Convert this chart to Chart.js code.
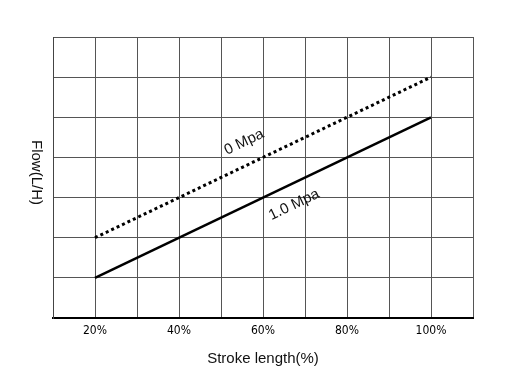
<!DOCTYPE html>
<html>
<head>
<meta charset="utf-8">
<script src="https://cdn.jsdelivr.net/npm/chart.js@4/dist/chart.umd.min.js"></script>
<style>
  html, body { margin: 0; padding: 0; background: #fff; }
  #wrap { width: 517px; height: 391px; }
</style>
</head>
<body>
<div id="wrap"><canvas id="myChart" width="517" height="391"></canvas></div>
<script>
var strokeLength = [20, 100];
var flow0Mpa = [2, 6];
var flow1Mpa = [1, 5];
var xTicks = [20, 40, 60, 80, 100];

function toPoints(xs, ys) {
  var pts = [];
  for (var i = 0; i < xs.length; i++) {
    pts.push({ x: xs[i], y: ys[i] });
  }
  return pts;
}

// line labels placed along each line
var lineLabels = [
  { text: "0 Mpa", x: 55.5, y: 4.38, ds: 0 },
  { text: "1.0 Mpa", x: 67.4, y: 2.82, ds: 1 }
];

var labelPlugin = {
  id: "labels",
  afterDatasetsDraw: function (chart) {
    var ctx = chart.ctx;
    var xs = chart.scales.x, ys = chart.scales.y;
    ctx.save();
    ctx.fillStyle = "#111";
    ctx.font = "15px 'Liberation Sans', Arial, sans-serif";
    ctx.textAlign = "center";
    ctx.textBaseline = "middle";
    lineLabels.forEach(function (l) {
      var d = chart.data.datasets[l.ds].data;
      var ang = Math.atan2(ys.getPixelForValue(d[1].y) - ys.getPixelForValue(d[0].y),
                           xs.getPixelForValue(d[1].x) - xs.getPixelForValue(d[0].x));
      ctx.save();
      ctx.translate(xs.getPixelForValue(l.x), ys.getPixelForValue(l.y));
      ctx.rotate(ang);
      ctx.fillText(l.text, 0, 0);
      ctx.restore();
    });
    // y axis title, reading top to bottom
    ctx.save();
    ctx.font = "15px 'Liberation Sans', Arial, sans-serif";
    ctx.translate(36, (chart.chartArea.top + chart.chartArea.bottom) / 2 - 5);
    ctx.rotate(Math.PI / 2);
    ctx.fillText("Flow(L/H)", 0, 0);
    ctx.restore();
    ctx.restore();
  }
};

var ctx = document.getElementById("myChart").getContext("2d");
var myChart = new Chart(ctx, {
  type: "line",
  data: {
    datasets: [
      {
        label: "0 Mpa",
        data: toPoints(strokeLength, flow0Mpa),
        borderColor: "#000",
        borderWidth: 3,
        borderDash: [3, 3],
        pointRadius: 0,
        fill: false
      },
      {
        label: "1.0 Mpa",
        data: toPoints(strokeLength, flow1Mpa),
        borderColor: "#000",
        borderWidth: 2.5,
        pointRadius: 0,
        fill: false
      }
    ]
  },
  options: {
    responsive: false,
    animation: false,
    layout: { padding: { left: 53, right: 44, top: 37, bottom: 0 } },
    plugins: { legend: { display: false }, tooltip: { enabled: false } },
    scales: {
      x: {
        type: "linear",
        min: 10,
        max: 110,
        afterBuildTicks: function (scale) {
          var t = [];
          for (var v = 10; v <= 110; v += 10) t.push({ value: v });
          scale.ticks = t;
        },
        afterFit: function (scale) { scale.height = 73; },
        ticks: {
          autoSkip: false,
          maxRotation: 0,
          padding: 6,
          color: "#000",
          font: { family: "'DejaVu Sans Condensed', 'Liberation Sans', sans-serif", size: 12 },
          callback: function (v) { return xTicks.indexOf(v) >= 0 ? v + "%" : ""; }
        },
        grid: { color: "#555", lineWidth: 1, drawTicks: false },
        border: { color: "#000", width: 2 },
        title: {
          display: true,
          text: "Stroke length(%)",
          color: "#111",
          font: { family: "'Liberation Sans', Arial, sans-serif", size: 15 },
          padding: { top: 4, bottom: 23 }
        }
      },
      y: {
        min: 0,
        max: 7,
        ticks: { stepSize: 1, display: false },
        afterFit: function (scale) { scale.width = 0; },
        grid: { color: "#555", lineWidth: 1, drawTicks: false },
        border: { color: "#444", width: 1 }
      }
    }
  },
  plugins: [labelPlugin]
});
</script>
</body>
</html>
